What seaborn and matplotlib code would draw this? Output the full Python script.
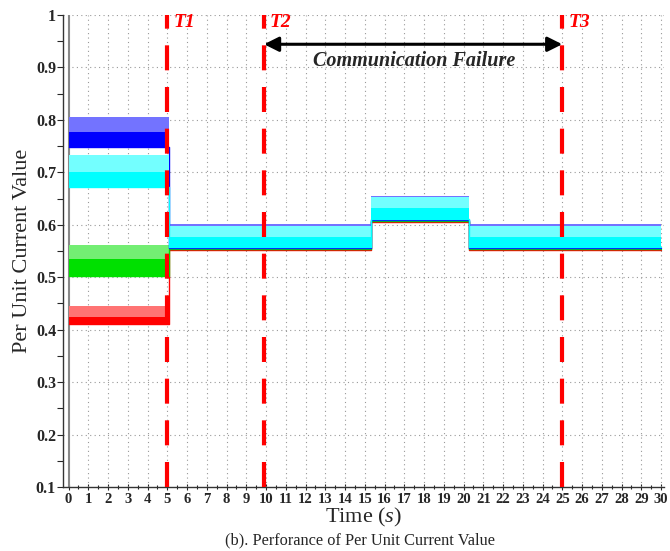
import matplotlib
matplotlib.use("Agg")
import matplotlib.pyplot as plt
import matplotlib.colors as mcolors
import seaborn as sns
import pandas as pd
import numpy as np

# ---- data ----
seg_edges = [0.0, 5.1, 15.3, 20.3, 30.0]
series_names = ["Red", "Green", "Blue", "Cyan"]
series_colors = ["#ff0000", "#00e000", "#0000ff", "#00ffff"]
# per segment: lower edge of dense band, upper edge of dense band, spike peaks
red_low = [0.410, 0.552, 0.606, 0.552]
red_mid = [0.425, 0.565, 0.620, 0.565]
red_peak = [0.445, 0.580, 0.635, 0.580]
green_low = [0.503, 0.553, 0.607, 0.553]
green_mid = [0.535, 0.568, 0.624, 0.568]
green_peak = [0.562, 0.588, 0.645, 0.588]
blue_low = [0.748, 0.556, 0.610, 0.556]
blue_mid = [0.776, 0.575, 0.630, 0.575]
blue_peak = [0.805, 0.602, 0.655, 0.602]
cyan_low = [0.672, 0.557, 0.611, 0.557]
cyan_mid = [0.700, 0.577, 0.632, 0.577]
cyan_peak = [0.732, 0.598, 0.652, 0.598]

events_t = [5.0, 9.9, 25.0]
event_labels = ["T1", "T2", "T3"]
x_ticks = list(range(0, 31))
y_ticks = [0.1, 0.2, 0.3, 0.4, 0.5, 0.6, 0.7, 0.8, 0.9, 1.0]
y_tick_labels = ["0.1", "0.2", "0.3", "0.4", "0.5", "0.6", "0.7", "0.8", "0.9", "1"]

sns.set_theme(style="white")
plt.rcParams["font.family"] = ["Liberation Serif", "DejaVu Serif"]
plt.rcParams["mathtext.fontset"] = "custom"
plt.rcParams["mathtext.it"] = "Liberation Serif:italic"
plt.rcParams["mathtext.rm"] = "Liberation Serif"

fig = plt.figure(figsize=(6.70, 5.51), dpi=100)
ax = fig.add_axes([0.094, 0.116, 0.897, 0.857])

lows = [red_low, green_low, blue_low, cyan_low]
mids = [red_mid, green_mid, blue_mid, cyan_mid]
peaks = [red_peak, green_peak, blue_peak, cyan_peak]

rows = []
for name, lo in zip(series_names, lows):
    for t, a in zip(seg_edges, lo + [lo[-1]]):
        rows.append({"series": name, "t": t, "v": a})
df = pd.DataFrame(rows)


def tint(c, f):
    r = np.array(mcolors.to_rgb(c))
    return tuple(r * f + (1 - f))


for i, (name, col, lo, mi, pk) in enumerate(zip(series_names, series_colors, lows, mids, peaks)):
    lo_e = lo + [lo[-1]]
    mi_e = mi + [mi[-1]]
    pk_e = pk + [pk[-1]]
    z = 2 + i * 0.1
    ax.fill_between(seg_edges, mi_e, pk_e, step="post", color=tint(col, 0.55), lw=0, zorder=z)
    ax.fill_between(seg_edges, lo_e, mi_e, step="post", color=col, lw=0, zorder=z + 0.01)
    sub = df[df["series"] == name]
    sns.lineplot(data=sub, x="t", y="v", ax=ax, color=col, lw=1.0,
                 drawstyle="steps-post", legend=False, zorder=z + 0.02)

# grid
for x in x_ticks[1:]:
    ax.axvline(x, color="#999999", lw=0.8, ls=(0, (1, 3)), zorder=1)
for y in y_ticks[1:]:
    ax.axhline(y, color="#999999", lw=0.8, ls=(0, (1, 3)), zorder=1)
ax.axvline(0, color="#888888", lw=1.5, zorder=1)

# event lines
for t, lab in zip(events_t, event_labels):
    ax.axvline(t, color="#ff0000", lw=3, ls=(0, (6, 4)), zorder=5)
    ax.text(t + 0.3, 0.985, lab, color="#ff0000", fontsize=14, fontweight="bold",
            fontstyle="italic", ha="left", va="center", zorder=6)

ax.annotate("", xy=(events_t[1], 0.944), xytext=(events_t[2], 0.944),
            arrowprops=dict(arrowstyle="<|-|>", color="black", lw=2.2,
                            mutation_scale=22, shrinkA=0, shrinkB=0), zorder=6)
ax.text(17.5, 0.912, "Communication Failure", fontsize=14.5, fontweight="bold",
        fontstyle="italic", ha="center", va="center", zorder=6)

ax.set_xlim(-0.28, 30.15)
ax.set_ylim(0.1, 1.0)
ax.set_xticks(x_ticks)
ax.set_xticklabels([str(v) for v in x_ticks], fontweight="bold", fontsize=10.5)
ax.set_xticks(np.arange(0.5, 30, 1.0), minor=True)
ax.set_yticks(y_ticks)
ax.set_yticklabels(y_tick_labels, fontweight="bold", fontsize=11.5)
ax.set_yticks(np.arange(0.15, 1.0, 0.1), minor=True)
ax.tick_params(axis="x", which="both", direction="inout", length=5, width=0.8, bottom=True, pad=2)
ax.tick_params(axis="x", which="minor", length=3)
ax.tick_params(axis="y", which="both", direction="out", length=4, width=0.8, left=True, pad=1)

for s in ["top", "right"]:
    ax.spines[s].set_visible(False)
for s in ["left", "bottom"]:
    ax.spines[s].set_color("#333333")
    ax.spines[s].set_linewidth(1.0)

ax.set_xlabel("Time ($\\mathit{s}$)", fontsize=16, labelpad=0)
ax.set_ylabel("Per Unit Current Value", fontsize=16, labelpad=3)
fig.text(0.537, 0.02, "(b). Perforance of Per Unit Current Value", fontsize=11.8,
         ha="center", va="center")

fig.savefig("out.png", dpi=100)
